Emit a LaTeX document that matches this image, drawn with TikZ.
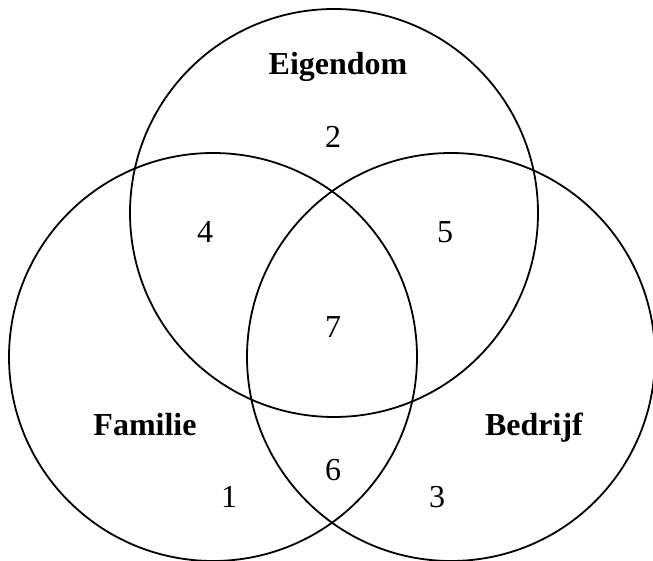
\documentclass[tikz,border=0pt]{standalone}
\usepackage{fontspec}
\setmainfont{Liberation Serif}
\usetikzlibrary{positioning}

\begin{document}
\begin{tikzpicture}[
    x=1pt, y=-1pt,
    ring/.style={circle, draw=black, line width=1.8pt, minimum size=408pt, inner sep=0pt},
    title/.style={font=\fontsize{32}{38}\selectfont\bfseries, inner sep=0pt},
    region/.style={font=\fontsize{32}{38}\selectfont, inner sep=0pt}
]
\useasboundingbox (0,0) rectangle (653,561);

% Circles
\node[ring] (eigendom) at (334,213) {};
\node[ring] (familie) at (213,357) {};
\node[ring] (bedrijf) at (451,357) {};

% Titles
\node[title] (teig) at (338,67) {Eigendom};
\node[title] (tfam) at (145,425) {Familie};
\node[title] (tbed) at (534,428) {Bedrijf};

% Regions
\node[region] (r1) at (229,497) {1};
\node[region] (r2) at (333,137) {2};
\node[region] (r3) at (437,497) {3};
\node[region] (r4) at (205,232) {4};
\node[region] (r5) at (445,232) {5};
\node[region] (r6) at (333,470) {6};
\node[region] (r7) at (333,327) {7};

\end{tikzpicture}
\end{document}
